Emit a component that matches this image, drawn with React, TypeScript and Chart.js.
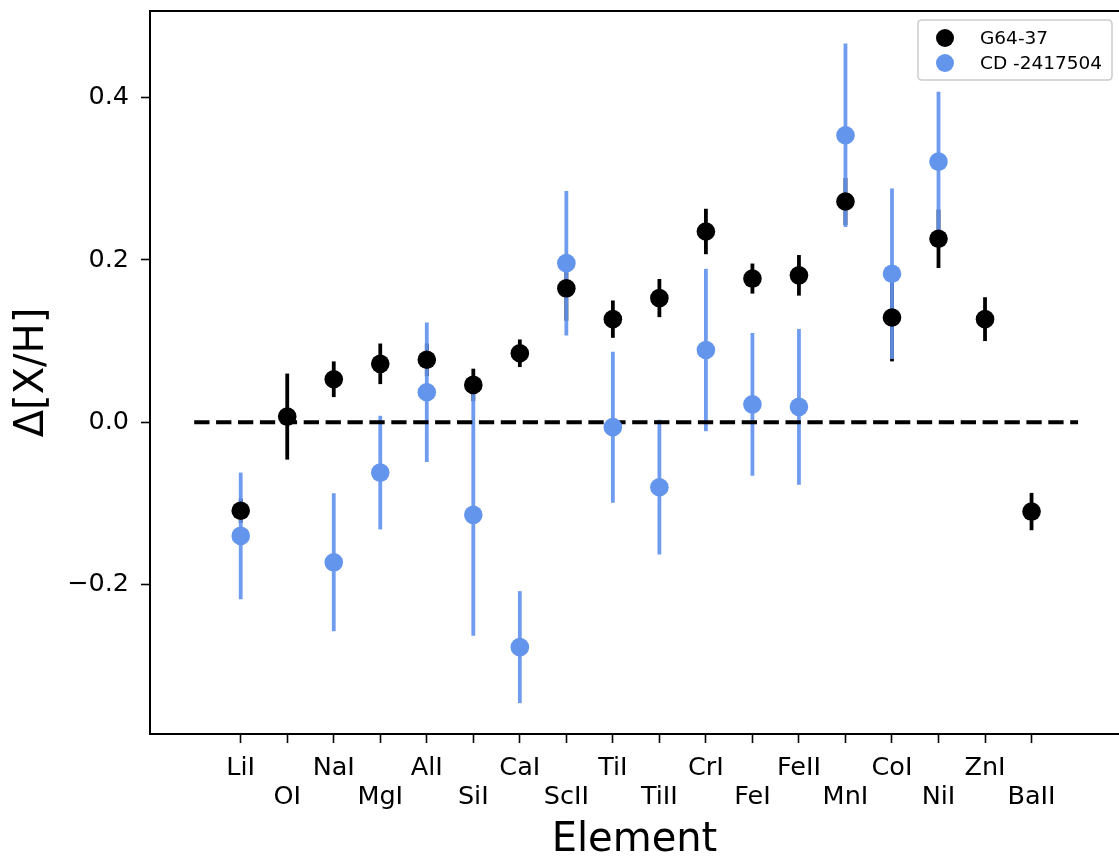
import React, { useEffect, useRef } from 'react';
import { Chart, registerables } from 'chart.js';

Chart.register(...registerables);

// ---------- data ----------
const elements = ['LiI', 'OI', 'NaI', 'MgI', 'AlI', 'SiI', 'CaI', 'ScII', 'TiI', 'TiII', 'CrI', 'FeI', 'FeII', 'MnI', 'CoI', 'NiI', 'ZnI', 'BaII'];
const seriesLabels = ['G64-37', 'CD -2417504'];
const g64Values = [-0.109, 0.007, 0.053, 0.072, 0.077, 0.046, 0.085, 0.165, 0.127, 0.153, 0.235, 0.177, 0.181, 0.272, 0.129, 0.226, 0.127, -0.110];
const g64Errors = [0.015, 0.053, 0.022, 0.025, 0.02, 0.02, 0.017, 0.04, 0.023, 0.0235, 0.028, 0.0185, 0.025, 0.029, 0.054, 0.036, 0.027, 0.023];
const cdValues: (number | null)[] = [-0.140, null, -0.1725, -0.062, 0.037, -0.114, -0.277, 0.196, -0.006, -0.080, 0.089, 0.022, 0.019, 0.3535, 0.183, 0.321, null, null];
const cdErrors: (number | null)[] = [0.078, null, 0.085, 0.070, 0.086, 0.149, 0.069, 0.089, 0.093, 0.083, 0.100, 0.088, 0.096, 0.113, 0.105, 0.086, null, null];
const yTicks = [-0.2, 0.0, 0.2, 0.4];
const refLineX = [-1, 18];
const refLineY = 0;

const BLACK = '#000000';
const BLUE = '#6495ED';
const FONT = 'DejaVu Sans';

const toPoints = (vals: (number | null)[]) =>
  vals.map((v, i) => (v === null ? null : { x: i, y: v })).filter((p) => p !== null) as { x: number; y: number }[];

const errorBarPlugin = {
  id: 'errorBars',
  beforeDatasetsDraw(chart: any) {
    const { ctx, scales } = chart;
    const x = scales.x;
    const y = scales.y;
    const series = [
      { vals: g64Values, errs: g64Errors, color: BLACK },
      { vals: cdValues, errs: cdErrors, color: 'rgba(100,149,237,0.93)' },
    ];
    ctx.save();
    ctx.lineCap = 'butt';
    ctx.lineWidth = 3.8;
    for (const s of series) {
      ctx.strokeStyle = s.color;
      s.vals.forEach((v: number | null, i: number) => {
        const e = s.errs[i];
        if (v === null || e === null) return;
        const px = x.getPixelForValue(i);
        ctx.beginPath();
        ctx.moveTo(px, y.getPixelForValue(v - e));
        ctx.lineTo(px, y.getPixelForValue(v + e));
        ctx.stroke();
      });
    }
    ctx.restore();
  },
};

const frameLegendPlugin = {
  id: 'frameLegend',
  afterDraw(chart: any) {
    const { ctx, chartArea } = chart;
    ctx.save();
    // top spine
    ctx.strokeStyle = BLACK;
    ctx.lineWidth = 2;
    ctx.beginPath();
    ctx.moveTo(chartArea.left - 1, chartArea.top);
    ctx.lineTo(chartArea.right, chartArea.top);
    ctx.stroke();

    // legend box
    const bx = 918, by = 20, bw = 194, bh = 60, r = 4;
    ctx.beginPath();
    ctx.moveTo(bx + r, by);
    ctx.lineTo(bx + bw - r, by);
    ctx.quadraticCurveTo(bx + bw, by, bx + bw, by + r);
    ctx.lineTo(bx + bw, by + bh - r);
    ctx.quadraticCurveTo(bx + bw, by + bh, bx + bw - r, by + bh);
    ctx.lineTo(bx + r, by + bh);
    ctx.quadraticCurveTo(bx, by + bh, bx, by + bh - r);
    ctx.lineTo(bx, by + r);
    ctx.quadraticCurveTo(bx, by, bx + r, by);
    ctx.closePath();
    ctx.fillStyle = 'rgba(255,255,255,0.8)';
    ctx.fill();
    ctx.strokeStyle = '#cccccc';
    ctx.lineWidth = 1.5;
    ctx.stroke();

    const colors = [BLACK, BLUE];
    const rows = [38, 63];
    ctx.font = `18.5px "${FONT}"`;
    ctx.textBaseline = 'middle';
    ctx.textAlign = 'left';
    seriesLabels.forEach((lab, i) => {
      ctx.fillStyle = colors[i];
      ctx.beginPath();
      ctx.arc(945, rows[i], 9, 0, Math.PI * 2);
      ctx.fill();
      ctx.fillStyle = BLACK;
      ctx.fillText(lab, 980, rows[i] + 1);
    });
    ctx.restore();
  },
};

export default function App() {
  const canvasRef = useRef<HTMLCanvasElement | null>(null);

  useEffect(() => {
    if (!canvasRef.current) return;
    const chart = new Chart(canvasRef.current, {
      type: 'scatter',
      data: {
        datasets: [
          {
            type: 'line',
            label: 'ref',
            data: refLineX.map((x) => ({ x, y: refLineY })),
            borderColor: BLACK,
            borderWidth: 4,
            borderDash: [15.3, 6.6],
            pointRadius: 0,
            showLine: true,
            fill: false,
            order: 3,
          } as any,
          {
            label: seriesLabels[0],
            data: toPoints(g64Values),
            backgroundColor: BLACK,
            borderWidth: 0,
            pointRadius: 9.3,
            pointHoverRadius: 9.3,
            order: 2,
          },
          {
            label: seriesLabels[1],
            data: toPoints(cdValues),
            backgroundColor: BLUE,
            borderWidth: 0,
            pointRadius: 9.3,
            pointHoverRadius: 9.3,
            order: 1,
          },
        ],
      },
      options: {
        animation: false,
        responsive: false,
        devicePixelRatio: 1,
        layout: { autoPadding: false, padding: { top: 11, left: 0, right: 0, bottom: 0 } },
        plugins: {
          legend: { display: false },
          tooltip: { enabled: false },
        },
        scales: {
          x: {
            type: 'linear',
            min: -1.95,
            max: 18.88,
            afterBuildTicks: (scale: any) => {
              scale.ticks = elements.map((_, i) => ({ value: i }));
            },
            afterFit: (scale: any) => {
              scale.height = 125;
              scale.paddingLeft = 0;
              scale.paddingRight = 0;
              scale.paddingTop = 0;
              scale.paddingBottom = 0;
            },
            ticks: {
              autoSkip: false,
              maxRotation: 0,
              minRotation: 0,
              padding: 10.5,
              color: BLACK,
              font: { family: FONT, size: 25.5, lineHeight: 1.14 },
              callback: (value: any, index: number) =>
                index % 2 === 0 ? [elements[index], ''] : ['', elements[index]],
            },
            grid: {
              drawOnChartArea: false,
              drawTicks: true,
              tickLength: 9,
              tickWidth: 1.6,
              tickColor: BLACK,
              color: BLACK,
            },
            border: { display: true, color: BLACK, width: 2 },
            title: {
              display: true,
              text: 'Element',
              color: BLACK,
              font: { family: FONT, size: 40, lineHeight: 0.8 },
              padding: { top: 0, bottom: 2.4 },
            },
          },
          y: {
            type: 'linear',
            min: -0.384,
            max: 0.5066,
            afterBuildTicks: (scale: any) => {
              scale.ticks = yTicks.map((v) => ({ value: v }));
            },
            afterFit: (scale: any) => {
              scale.width = 150;
              scale.paddingLeft = 0;
              scale.paddingRight = 0;
              scale.paddingTop = 0;
              scale.paddingBottom = 0;
            },
            ticks: {
              padding: 12,
              color: BLACK,
              font: { family: FONT, size: 25.5 },
              callback: (v: any) => Number(v).toFixed(1).replace('-', '\u2212'),
            },
            grid: {
              drawOnChartArea: false,
              drawTicks: true,
              tickLength: 9,
              tickWidth: 1.6,
              tickColor: BLACK,
              color: BLACK,
            },
            border: { display: true, color: BLACK, width: 2 },
            title: {
              display: true,
              text: 'Δ[X/H]',
              color: BLACK,
              font: { family: FONT, size: 40, lineHeight: 0.8 },
              padding: { top: 17, bottom: 0 },
            },
          },
        },
      },
      plugins: [errorBarPlugin, frameLegendPlugin],
    } as any);
    return () => chart.destroy();
  }, []);

  return (
    <div style={{ position: 'absolute', left: 0, top: 0, width: 1119, height: 859, background: '#fff' }}>
      <canvas ref={canvasRef} width={1119} height={859} style={{ display: 'block' }} />
    </div>
  );
}
